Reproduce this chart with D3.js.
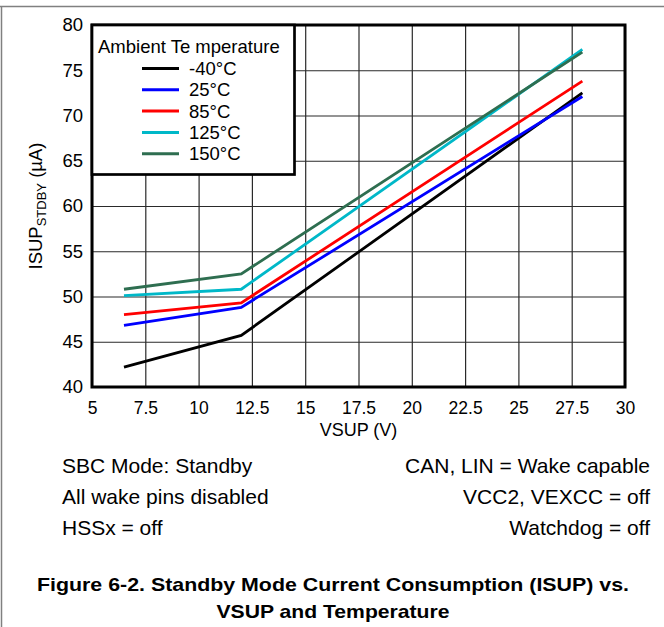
<!DOCTYPE html>
<html>
<head>
<meta charset="utf-8">
<script src="https://cdn.jsdelivr.net/npm/d3@7"></script>
<style>
  body { margin: 0; background: #fff; }
  text { font-family: "Liberation Sans", Arial, sans-serif; }
</style>
</head>
<body>
<div id="chart"></div>
<script>
// data
const vsup = [6.5, 12, 28];
const temps = ["-40°C", "25°C", "85°C", "125°C", "150°C"];
const isupM40 = [42.2, 45.7, 72.5];
const isup25 = [46.8, 48.8, 72.1];
const isup85 = [48.0, 49.3, 73.8];
const isup125 = [50.1, 50.8, 77.3];
const isup150 = [50.8, 52.5, 77.0];
const xTicks = [5, 7.5, 10, 12.5, 15, 17.5, 20, 22.5, 25, 27.5, 30];
const yTicks = [40, 45, 50, 55, 60, 65, 70, 75, 80];
const notesLeft = ["SBC Mode: Standby", "All wake pins disabled", "HSSx = off"];
const notesRight = ["CAN, LIN = Wake capable", "VCC2, VEXCC = off", "Watchdog = off"];
const caption = ["Figure 6-2. Standby Mode Current Consumption (ISUP) vs.", "VSUP and Temperature"];

const colors = ["#000000", "#0000ff", "#ff0000", "#00b8c8", "#2e6e50"];
const seriesVals = [isupM40, isup25, isup85, isup125, isup150];
const series = temps.map((t, i) => ({
  name: t, color: colors[i],
  values: vsup.map((v, j) => ({x: v, y: seriesVals[i][j]}))
}));

const W = 664, H = 627;
const margin = {top: 25, right: 39, bottom: 240, left: 92},
    width = W - margin.left - margin.right,
    height = H - margin.top - margin.bottom;

const root = d3.select("#chart").append("svg")
    .attr("width", W)
    .attr("height", H);

// outer frame (top + left only)
root.append("line").attr("x1", 0).attr("x2", W).attr("y1", 6.5).attr("y2", 6.5)
    .attr("stroke", "#808080").attr("stroke-width", 1.5);
root.append("line").attr("x1", 1.5).attr("x2", 1.5).attr("y1", 6.5).attr("y2", H)
    .attr("stroke", "#808080").attr("stroke-width", 1.5);

const svg = root.append("g")
    .attr("transform", `translate(${margin.left}, ${margin.top})`);

const x = d3.scaleLinear().domain([5, 30]).range([0, width]);
const y = d3.scaleLinear().domain([40, 80]).range([height, 0]);

// grid
svg.append("g")
    .attr("transform", `translate(0, ${height})`)
    .call(d3.axisBottom(x).tickValues(xTicks).tickSize(-height).tickFormat(""))
    .call(g => g.select(".domain").remove())
    .selectAll("line").attr("stroke", "#2a2a2a").attr("stroke-width", 1.2);
svg.append("g")
    .call(d3.axisLeft(y).tickValues(yTicks).tickSize(-width).tickFormat(""))
    .call(g => g.select(".domain").remove())
    .selectAll("line").attr("stroke", "#2a2a2a").attr("stroke-width", 1.2);

// tick labels
svg.append("g")
    .attr("transform", `translate(0, ${height})`)
    .call(d3.axisBottom(x).tickValues(xTicks).tickSize(0).tickPadding(15).tickFormat(d => String(d)))
    .call(g => g.select(".domain").remove())
    .selectAll("text")
      .style("font-size", "17.5px")
      .style("font-family", "'Liberation Sans', Arial, sans-serif")
      .style("fill", "#000");
svg.append("g")
    .call(d3.axisLeft(y).tickValues(yTicks).tickSize(0).tickPadding(9).tickFormat(d => String(d)))
    .call(g => g.select(".domain").remove())
    .selectAll("text")
      .style("font-size", "18.5px")
      .style("font-family", "'Liberation Sans', Arial, sans-serif")
      .style("fill", "#000");

// lines
const line = d3.line().x(d => x(d.x)).y(d => y(d.y));
svg.selectAll(".series")
  .data(series)
  .join("path")
    .attr("class", "series")
    .attr("d", d => line(d.values))
    .attr("fill", "none")
    .attr("stroke", d => d.color)
    .attr("stroke-width", 2.8);

// plot border
svg.append("rect")
    .attr("x", 0).attr("y", 0)
    .attr("width", width).attr("height", height)
    .attr("fill", "none")
    .attr("stroke", "#000")
    .attr("stroke-width", 3);

// legend
const legend = svg.append("g");
legend.append("rect")
    .attr("x", 0).attr("y", 0)
    .attr("width", 202.5).attr("height", 149.5)
    .attr("fill", "#fff")
    .attr("stroke", "#000")
    .attr("stroke-width", 2.7);
legend.append("text")
    .attr("x", 6).attr("y", 28)
    .style("font-size", "18.5px")
    .text("Ambient Te mperature");
legend.selectAll("line.key")
  .data(series)
  .join("line")
    .attr("class", "key")
    .attr("x1", 50).attr("x2", 87)
    .attr("y1", (d, i) => 43.5 + i * 21.3)
    .attr("y2", (d, i) => 43.5 + i * 21.3)
    .attr("stroke", d => d.color)
    .attr("stroke-width", 3);
legend.selectAll("text.key")
  .data(series)
  .join("text")
    .attr("class", "key")
    .attr("x", 97)
    .attr("y", (d, i) => 43.5 + i * 21.3)
    .attr("dy", "0.35em")
    .style("font-size", "18.5px")
    .text(d => d.name);

// axis titles
root.append("text")
    .attr("x", margin.left + width / 2)
    .attr("y", 436)
    .attr("text-anchor", "middle")
    .style("font-size", "18px")
    .text("VSUP (V)");

const yt = root.append("text")
    .attr("transform", `translate(42, ${margin.top + height / 2}) rotate(-90)`)
    .attr("text-anchor", "middle")
    .style("font-size", "18.5px");
yt.append("tspan").text("ISUP");
yt.append("tspan").attr("dy", 3.5).style("font-size", "13px").text("STDBY");
yt.append("tspan").attr("dy", -3.5).text(" (µA)");

// conditions
root.selectAll("text.noteL")
  .data(notesLeft)
  .join("text")
    .attr("class", "noteL")
    .attr("x", 62)
    .attr("y", (d, i) => 473 + i * 31)
    .style("font-size", "21px")
    .text(d => d);
root.selectAll("text.noteR")
  .data(notesRight)
  .join("text")
    .attr("class", "noteR")
    .attr("x", 650)
    .attr("y", (d, i) => 473 + i * 31)
    .attr("text-anchor", "end")
    .style("font-size", "21px")
    .text(d => d);

// caption
const capLen = [592, 233];
root.selectAll("text.cap")
  .data(caption)
  .join("text")
    .attr("class", "cap")
    .attr("x", 333)
    .attr("y", (d, i) => 591 + i * 27)
    .attr("text-anchor", "middle")
    .attr("textLength", (d, i) => capLen[i])
    .attr("lengthAdjust", "spacingAndGlyphs")
    .style("font-size", "19px")
    .style("font-weight", "bold")
    .text(d => d);
</script>
</body>
</html>
